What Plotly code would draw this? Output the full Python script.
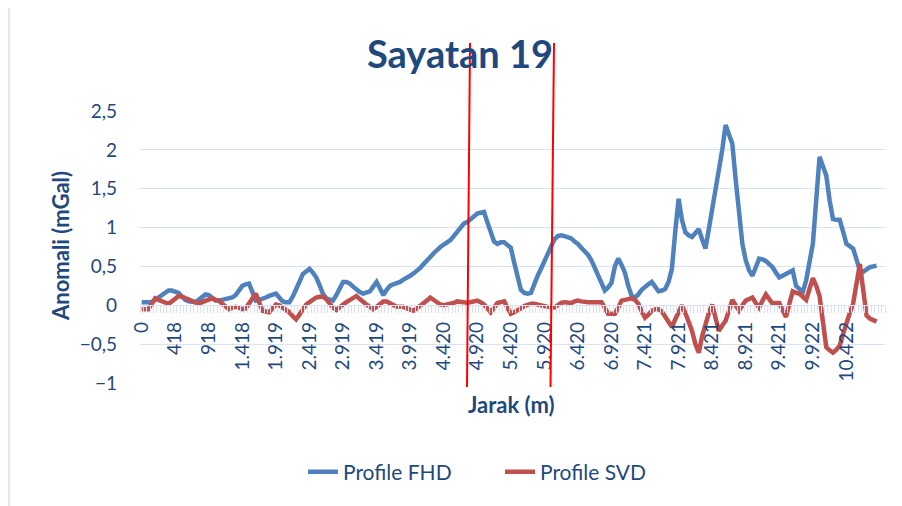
import plotly.graph_objects as go

# 数据 (Sayatan 19)
jarak_labels = ['0', '418', '918', '1.418', '1.919', '2.419', '2.919', '3.419', '3.919', '4.420', '4.920',
                '5.420', '5.920', '6.420', '6.920', '7.421', '7.921', '8.421', '8.921', '9.421', '9.922', '10.422']

profile_fhd = [
    0.04, 0.04, 0.04, 0.04, 0.07, 0.10, 0.14, 0.17, 0.19, 0.19,
    0.18, 0.16, 0.11, 0.07, 0.05, 0.04, 0.04, 0.07, 0.11, 0.14,
    0.13, 0.09, 0.06, 0.06, 0.07, 0.08, 0.08, 0.10, 0.13, 0.19,
    0.25, 0.27, 0.28, 0.17, 0.06, 0.07, 0.08, 0.10, 0.12, 0.14,
    0.15, 0.10, 0.05, 0.04, 0.04, 0.11, 0.19, 0.30, 0.40, 0.44,
    0.47, 0.42, 0.36, 0.26, 0.15, 0.09, 0.07, 0.06, 0.13, 0.22,
    0.30, 0.30, 0.28, 0.24, 0.20, 0.17, 0.15, 0.16, 0.18, 0.24,
    0.30, 0.22, 0.13, 0.20, 0.25, 0.27, 0.28, 0.30, 0.33, 0.35,
    0.38, 0.41, 0.44, 0.48, 0.53, 0.57, 0.62, 0.67, 0.72, 0.75,
    0.78, 0.81, 0.84, 0.89, 0.95, 1.00, 1.05, 1.07, 1.11, 1.15,
    1.18, 1.19, 1.20, 1.07, 0.94, 0.82, 0.79, 0.81, 0.81, 0.78,
    0.74, 0.55, 0.38, 0.20, 0.16, 0.15, 0.16, 0.28, 0.38, 0.47,
    0.56, 0.64, 0.74, 0.85, 0.89, 0.90, 0.89, 0.88, 0.86, 0.82,
    0.79, 0.74, 0.70, 0.65, 0.58, 0.48, 0.39, 0.29, 0.19, 0.23,
    0.29, 0.50, 0.60, 0.52, 0.42, 0.25, 0.12, 0.10, 0.14, 0.20,
    0.24, 0.27, 0.30, 0.24, 0.18, 0.19, 0.21, 0.30, 0.47, 0.95,
    1.37, 1.10, 0.94, 0.90, 0.88, 0.93, 0.98, 0.85, 0.73, 0.98,
    1.22, 1.45, 1.69, 2.00, 2.32, 2.20, 2.08, 1.62, 1.20, 0.79,
    0.58, 0.45, 0.38, 0.50, 0.60, 0.59, 0.57, 0.53, 0.49, 0.42,
    0.36, 0.38, 0.40, 0.43, 0.45, 0.25, 0.21, 0.17, 0.32, 0.55,
    0.79, 1.35, 1.91, 1.79, 1.67, 1.35, 1.11, 1.10, 1.10, 0.95,
    0.79, 0.76, 0.73, 0.59, 0.45, 0.43, 0.46, 0.49, 0.50, 0.51,
]

profile_svd = [
    -0.05, -0.05, -0.05, 0.02, 0.09, 0.07, 0.05, 0.03, 0.02, 0.05,
    0.09, 0.12, 0.11, 0.09, 0.08, 0.06, 0.04, 0.02, 0.04, 0.06,
    0.08, 0.09, 0.07, 0.06, 0.02, -0.02, -0.05, -0.03, -0.02, -0.03,
    -0.05, -0.04, 0.03, 0.10, 0.15, 0.04, -0.07, -0.08, -0.09, -0.04,
    0.01, 0.00, -0.03, -0.05, -0.09, -0.14, -0.18, -0.12, -0.05, 0.01,
    0.04, 0.07, 0.10, 0.11, 0.11, 0.08, 0.02, -0.03, -0.06, -0.02,
    0.01, 0.04, 0.07, 0.10, 0.12, 0.08, 0.04, 0.01, -0.02, -0.05,
    -0.02, 0.02, 0.05, 0.05, 0.03, 0.01, -0.02, -0.02, -0.02, -0.04,
    -0.06, -0.07, -0.04, -0.01, 0.02, 0.06, 0.10, 0.07, 0.04, 0.01,
    0.00, 0.01, 0.01, 0.03, 0.05, 0.05, 0.04, 0.03, 0.04, 0.05,
    0.06, 0.04, 0.01, -0.04, -0.09, -0.03, 0.03, 0.04, 0.05, -0.03,
    -0.11, -0.09, -0.07, -0.04, -0.01, 0.01, 0.02, 0.02, 0.01, -0.01,
    -0.02, -0.02, -0.03, -0.03, 0.00, 0.03, 0.04, 0.03, 0.03, 0.05,
    0.06, 0.05, 0.04, 0.04, 0.04, 0.04, 0.04, 0.04, -0.03, -0.11,
    -0.11, -0.11, -0.03, 0.06, 0.07, 0.08, 0.09, 0.07, 0.02, -0.08,
    -0.16, -0.12, -0.07, -0.05, -0.05, -0.08, -0.15, -0.22, -0.28, -0.18,
    -0.08, 0.00, -0.10, -0.22, -0.33, -0.50, -0.61, -0.40, -0.22, -0.10,
    0.01, -0.16, -0.33, -0.26, -0.20, -0.07, 0.07, 0.00, -0.07, 0.00,
    0.06, 0.08, 0.10, 0.03, -0.03, 0.06, 0.14, 0.08, 0.02, 0.03,
    0.03, -0.06, -0.15, 0.02, 0.18, 0.16, 0.15, 0.11, 0.07, 0.21,
    0.35, 0.25, 0.12, -0.21, -0.54, -0.58, -0.61, -0.57, -0.52, -0.37,
    -0.22, -0.10, 0.02, 0.28, 0.53, 0.20, -0.13, -0.17, -0.19, -0.21,
]

idx = list(range(len(profile_fhd)))
label_step = 10
tick_pos = [i * label_step for i in range(len(jarak_labels))]

text_color = '#1F497D'
grid_color = '#D9E1F2'

# halaman html punya margin 8px, jadi ukuran figure dikurangi
OFF = 8
W, H = 902 - OFF, 506 - OFF
L, R, T, B = 140 - OFF, 17, 111 - OFF, 123
PW, PH = W - L - R, H - T - B


def px_x(x):
    return (x - OFF - L) / PW


def px_y(y):
    return (H - B - (y - OFF)) / PH


fig = go.Figure()
fig.add_trace(go.Scatter(x=idx, y=profile_fhd, mode='lines', name='Profile FHD',
                         line=dict(color='#4F81BD', width=4.5)))
fig.add_trace(go.Scatter(x=idx, y=profile_svd, mode='lines', name='Profile SVD',
                         line=dict(color='#C0504D', width=4.5)))

fig.update_layout(
    width=W, height=H,
    margin=dict(l=L, r=R, t=T, b=B),
    paper_bgcolor='white', plot_bgcolor='white',
    separators=',.',
    font=dict(family='Lato', color=text_color),
    title=dict(text='<b>Sayatan 19</b>', x=(460 - OFF) / W, xanchor='center',
               y=1 - (55 - OFF) / H, yanchor='middle',
               font=dict(size=38, color=text_color, family='Lato')),
    showlegend=True,
    legend=dict(orientation='h', x=px_x(303), xanchor='left', y=px_y(472), yanchor='middle',
                font=dict(size=21, color=text_color), bgcolor='rgba(0,0,0,0)',
                entrywidth=152, entrywidthmode='pixels'),
)

# sumbu y
fig.update_yaxes(range=[-1, 2.5], dtick=0.5, showgrid=True, gridcolor=grid_color, gridwidth=1,
                 zeroline=False, showline=False, ticks='', ticklabelstandoff=22,
                 tickfont=dict(size=19, color=text_color))

# sumbu x di y=0
fig.update_xaxes(range=[-0.5, len(idx) + 1.5], anchor='free', position=1 / 3.5,
                 showgrid=False, zeroline=False, showline=True, linecolor=grid_color, linewidth=1,
                 tickmode='array', tickvals=tick_pos, ticktext=jarak_labels, tickangle=-90,
                 ticks='', ticklabelstandoff=8, tickfont=dict(size=19, color=text_color),
                 minor=dict(tick0=0.5, dtick=1, ticks='outside', ticklen=7, tickcolor=grid_color,
                            showgrid=False))

# judul sumbu
fig.add_annotation(text='<b>Anomali (mGal)</b>', xref='paper', yref='paper',
                   x=px_x(60), y=px_y(246), textangle=-90, showarrow=False,
                   font=dict(size=22, color=text_color), xanchor='center', yanchor='middle')
fig.add_annotation(text='<b>Jarak (m)</b>', xref='paper', yref='paper',
                   x=px_x(511), y=px_y(404), showarrow=False,
                   font=dict(size=22, color=text_color), xanchor='center', yanchor='middle')

# bingkai luar
fig.add_shape(type='rect', xref='paper', yref='paper', x0=px_x(9), x1=px_x(960),
              y0=px_y(560), y1=px_y(7), line=dict(color='#D6DFEF', width=1.5), layer='below')

# garis merah penanda
fig.add_shape(type='line', xref='paper', yref='paper', x0=px_x(470), y0=px_y(43),
              x1=px_x(467), y1=px_y(387), line=dict(color='#FF0000', width=2))
fig.add_shape(type='line', xref='paper', yref='paper', x0=px_x(554), y0=px_y(43),
              x1=px_x(550.5), y1=px_y(387), line=dict(color='#FF0000', width=2))

fig.write_html("out.html")
